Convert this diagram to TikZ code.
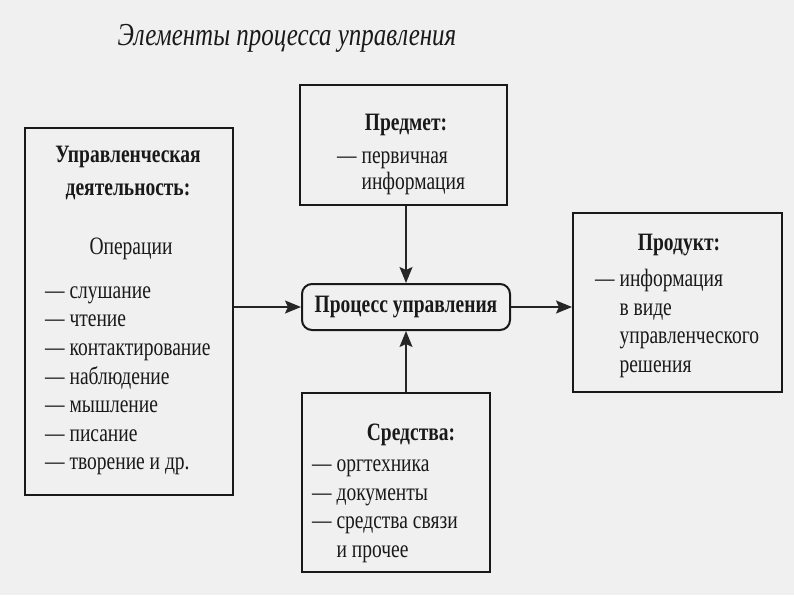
\documentclass[tikz,border=0pt]{standalone}
\usepackage{fontspec}
\setmainfont{Liberation Serif}[FakeStretch=0.78]
\usetikzlibrary{positioning,arrows.meta}

\begin{document}
\begin{tikzpicture}[
    x=1pt,y=-1pt,
    >={Stealth[length=16pt,width=13pt,inset=3pt]},
    every node/.style={font=\fontsize{25}{28.6}\selectfont,inner sep=0pt,text=black!90},
    box/.style={draw=black!90,line width=2pt},
    head/.style={font=\fontsize{25}{33}\selectfont\bfseries},
    items/.style={align=left,anchor=north west},
    link/.style={->,draw=black!85,fill=black!85,line width=1.5pt}
]
\useasboundingbox[fill=black!6] (0,0) rectangle (794,595);

% Title
\node[font=\fontsize{32}{36}\selectfont\itshape] (title) at (287,38) {Элементы процесса управления};

% Boxes
\node[box,minimum width=208pt,minimum height=367pt] (uprav) at (129,311.5) {};
\node[box,minimum width=207pt,minimum height=120pt] (predmet) at (403.5,145) {};
\node[box,rounded corners=10pt,minimum width=208pt,minimum height=46pt] (process) at (406,307)
    {\bfseries Процесс управления};
\node[box,minimum width=188pt,minimum height=179pt] (sredstva) at (396,482.5) {};
\node[box,minimum width=209pt,minimum height=179pt] (produkt) at (677.5,302.5) {};

% Left box text
\node[head,align=center,anchor=north] (upravhead) at (128,139) {\strut Управленческая\\деятельность:};
\node[anchor=base] (oper) at (131,254) {Операции};
\node[items] (oplist) at (45,278) {\strut— слушание\\— чтение\\— контактирование\\— наблюдение\\— мышление\\— писание\\— творение и др.};

% Top box text
\node[head,anchor=base] (predmethead) at (406,130) {Предмет:};
\node[items,font=\fontsize{25}{26}\selectfont] (predmetlist) at (337,145.5) {\strut— первичная\\\phantom{— }информация};

% Right box text
\node[head,anchor=base] (produkthead) at (679,250) {Продукт:};
\node[items] (produktlist) at (595,266.5) {\strut— информация\\\phantom{— }в виде\\\phantom{— }управленческого\\\phantom{— }решения};

% Bottom box text
\node[head,anchor=base] (sredstvahead) at (411,440) {Средства:};
\node[items] (sredstvalist) at (312,451.5) {\strut— оргтехника\\— документы\\— средства связи\\\phantom{— }и прочее};

% Arrows
\draw[link] (uprav.east |- process) -- (process.west);
\draw[link] (predmet.south -| process) -- (process.north);
\draw[link] (sredstva.north -| process) -- (process.south);
\draw[link] (process.east) -- (produkt.west |- process);

\end{tikzpicture}
\end{document}
